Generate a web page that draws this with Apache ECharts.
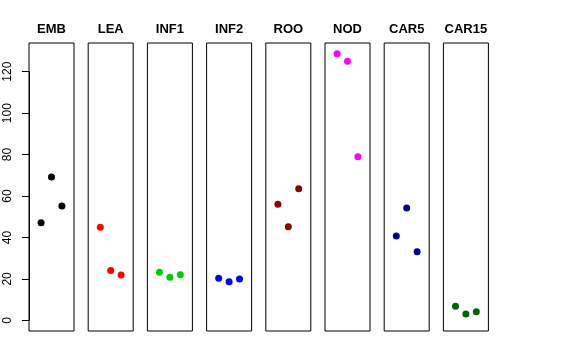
<!DOCTYPE html>
<html>
<head>
<meta charset="utf-8">
<script src="https://cdn.jsdelivr.net/npm/echarts@6/dist/echarts.min.js"></script>
<style>html,body{margin:0;padding:0;background:#fff}#c{width:576px;height:360px}</style>
</head>
<body>
<div id="c"></div>
<script>
var categories = ['EMB','LEA','INF1','INF2','ROO','NOD','CAR5','CAR15'];
var xPositions = [1, 2, 3];
var emb   = [47.1, 69.2, 55.2];
var lea   = [44.9, 24.1, 21.9];
var inf1  = [23.2, 20.8, 22.0];
var inf2  = [20.3, 18.6, 19.9];
var roo   = [56.0, 45.2, 63.5];
var nod   = [128.7, 125.0, 79.0];
var car5  = [40.7, 54.2, 33.1];
var car15 = [6.8, 3.0, 4.2];
var yTickMin = 0, yTickMax = 120, yTickStep = 20;
var colors = ['#000000','#FF0000','#00CD00','#0000FF','#8B0000','#FF00FF','#00008B','#006400'];

(function () {
  var seriesValues = [emb, lea, inf1, inf2, roo, nod, car5, car15];
  var font = 'Liberation Sans, Arial, Helvetica, sans-serif';
  var grids = [], xAxes = [], yAxes = [], series = [], titles = [];
  var left0 = 29, step = 59.2, w = 45, gTop = 43, h = 288;
  var yMin = -5.15, yMax = 133.85;

  categories.forEach(function (cat, i) {
    var l = left0 + step * i;
    grids.push({left: l, top: gTop, width: w, height: h, show: true, borderColor: '#000', borderWidth: 1});
    xAxes.push({type: 'value', gridIndex: i, min: -0.16, max: 4.16, show: false});
    yAxes.push({type: 'value', gridIndex: i, min: yMin, max: yMax, show: false});
    series.push({
      type: 'scatter', xAxisIndex: i, yAxisIndex: i,
      symbol: 'circle', symbolSize: 7,
      itemStyle: {color: colors[i], opacity: 1},
      data: xPositions.map(function (x, k) { return [x, seriesValues[i][k]]; }),
      silent: true
    });
    titles.push({text: cat, left: l + w / 2, top: 23, textAlign: 'center', padding: 0,
      textStyle: {fontSize: 13, fontWeight: 'bold', color: '#000', fontFamily: font}});
  });

  // overlay grid spanning exactly the tick range 0..120 for the R-style axis
  var pxPerUnit = h / (yMax - yMin);
  var axTop = gTop + (yMax - yTickMax) * pxPerUnit;
  var axH = (yTickMax - yTickMin) * pxPerUnit;
  grids.push({left: left0, top: axTop, width: w, height: axH, show: false});
  xAxes.push({type: 'value', gridIndex: 8, min: 0, max: 1, show: false});
  yAxes.push({type: 'value', gridIndex: 8, min: yTickMin, max: yTickMax, interval: yTickStep,
    splitLine: {show: false},
    axisLine: {show: true, lineStyle: {color: '#000', width: 1}},
    axisTick: {show: true, length: 7, lineStyle: {color: '#000'}},
    axisLabel: {show: true, rotate: 90, margin: 15, fontSize: 12, color: '#000', fontFamily: font}
  });

  var chart = echarts.init(document.getElementById('c'), null, {renderer: 'canvas'});
  chart.setOption({
    animation: false,
    backgroundColor: '#fff',
    title: titles,
    grid: grids,
    xAxis: xAxes,
    yAxis: yAxes,
    series: series
  });
})();
</script>
</body>
</html>
